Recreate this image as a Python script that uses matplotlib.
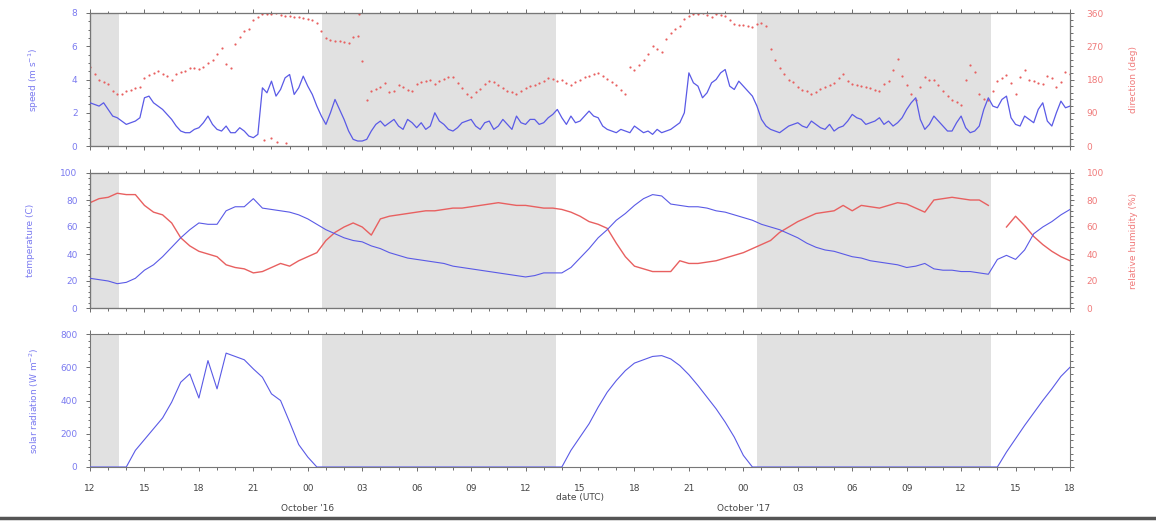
import numpy as np
import matplotlib
matplotlib.use("Agg")
import matplotlib.pyplot as plt
from matplotlib.ticker import MultipleLocator
from matplotlib.lines import Line2D

# hours since 15 Oct 12 UTC, sampled every half hour
STEP = 0.5

speed = [2.6, 2.4, 2.2, 1.7, 1.3, 1.5, 2.9, 2.6, 2.2, 1.6, 0.9, 0.8,
         1.1, 1.8, 1.0, 1.2, 0.8, 0.9, 0.5, 3.5, 3.9, 3.4, 4.3, 3.5,
         3.6, 2.4, 1.3, 2.8, 1.6, 0.4, 0.3, 0.9, 1.5, 1.4, 1.2, 1.6,
         1.1, 1.0, 2.0, 1.3, 0.9, 1.4, 1.6, 1.0, 1.5, 1.2, 1.3, 1.8,
         1.3, 1.6, 1.4, 1.9, 1.7, 1.8, 1.5, 2.1, 1.7, 1.0, 0.8, 0.9,
         1.2, 0.8, 0.7, 0.8, 1.0, 1.4, 4.4, 3.6, 3.2, 4.0, 4.6, 3.4,
         3.6, 3.0, 1.6, 1.0, 0.8, 1.2, 1.4, 1.1, 1.3, 1.0, 0.9, 1.2,
         1.9, 1.6, 1.4, 1.7, 1.5, 1.4, 2.2, 2.9, 1.0, 1.8, 1.2, 0.9,
         1.8, 0.8, 1.2, 2.9, 2.3, 3.0, 1.3, 1.8, 1.4, 2.6, 1.2, 2.7,
         2.4]
# readings a quarter hour after each of the above
speed_mid = [2.5, 2.6, 1.8, 1.5, 1.4, 1.7, 3.0, 2.4, 1.9, 1.2, 0.8, 1.0,
             1.4, 1.3, 0.9, 0.8, 1.1, 0.6, 0.7, 3.2, 3.0, 4.1, 3.1, 4.2,
             3.1, 1.8, 2.0, 2.2, 0.9, 0.3, 0.4, 1.3, 1.2, 1.6, 1.0, 1.4,
             1.4, 1.2, 1.5, 1.0, 1.1, 1.5, 1.2, 1.4, 1.0, 1.6, 1.0, 1.4,
             1.6, 1.3, 1.7, 2.2, 1.3, 1.4, 1.8, 1.8, 1.2, 0.9, 1.0, 0.8,
             1.0, 0.9, 1.0, 0.9, 1.2, 2.0, 3.8, 2.9, 3.8, 4.4, 3.6, 3.9,
             3.3, 2.4, 1.2, 0.9, 1.0, 1.3, 1.2, 1.5, 1.1, 1.3, 1.1, 1.5,
             1.7, 1.3, 1.5, 1.3, 1.2, 1.7, 2.6, 1.6, 1.3, 1.5, 0.9, 1.4,
             1.1, 0.9, 2.2, 2.4, 2.8, 1.7, 1.2, 1.6, 2.2, 1.5, 2.0, 2.3]

direction = [214, 178, 168, 140, 150, 158, 185, 198, 196, 180, 200, 212,
             208, 225, 248, 222, 275, 312, 340, 358, 356, 354, 351, 349,
             344, 332, 292, 285, 282, 295, 230, 150, 160, 145, 165, 152,
             168, 175, 168, 182, 186, 158, 132, 155, 176, 165, 150, 142,
             158, 165, 176, 182, 178, 166, 178, 190, 198, 182, 166, 140,
             205, 232, 270, 255, 305, 325, 352, 357, 354, 358, 352, 330,
             328, 322, 332, 262, 212, 180, 160, 150, 145, 160, 170, 195,
             168, 162, 158, 150, 175, 235, 165, 125, 188, 178, 150, 125,
             110, 218, 140, 125, 175, 192, 140, 205, 176, 168, 185, 172,
             195]
direction_mid = [195, 172, 150, 142, 152, 160, 192, 202, 190, 196, 204, 210,
                 215, 232, 265, 210, 295, 318, 350, 357, 360, 352, 350, 346,
                 340, 310, 288, 283, 280, 298, 125, 155, 170, 150, 160, 148,
                 172, 178, 176, 188, 170, 140, 145, 168, 172, 158, 145, 150,
                 162, 170, 185, 176, 170, 172, 186, 195, 190, 172, 152, 215,
                 220, 250, 262, 290, 318, 345, 356, 360, 350, 355, 340, 328,
                 325, 330, 325, 232, 195, 172, 152, 142, 155, 165, 185, 175,
                 165, 160, 152, 168, 205, 190, 140, 160, 180, 165, 135, 118,
                 180, 200, 128, 150, 185, 170, 188, 180, 170, 190, 160, 200]

# a few readings that wrapped round north
dir_extra_hours = [9.6, 10.0, 10.3, 10.8, 14.8]
dir_extra = [15, 22, 10, 8, 358]

temperature = [22, 21, 20, 18, 19, 22, 28, 32, 38, 45, 52, 58,
               63, 62, 62, 72, 75, 75, 81, 74, 73, 72, 71, 69,
               66, 62, 58, 55, 52, 50, 49, 46, 44, 41, 39, 37,
               36, 35, 34, 33, 31, 30, 29, 28, 27, 26, 25, 24,
               23, 24, 26, 26, 26, 30, 37, 44, 52, 58, 65, 70,
               76, 81, 84, 83, 77, 76, 75, 75, 74, 72, 71, 69,
               67, 65, 62, 60, 58, 55, 52, 48, 45, 43, 42, 40,
               38, 37, 35, 34, 33, 32, 30, 31, 33, 29, 28, 28,
               27, 27, 26, 25, 36, 39, 36, 43, 55, 60, 64, 69,
               73]

humidity = [78, 81, 82, 85, 84, 84, 76, 71, 69, 63, 52, 46,
            42, 40, 38, 32, 30, 29, 26, 27, 30, 33, 31, 35,
            38, 41, 50, 56, 60, 63, 60, 54, 66, 68, 69, 70,
            71, 72, 72, 73, 74, 74, 75, 76, 77, 78, 77, 76,
            76, 75, 74, 74, 73, 71, 68, 64, 62, 59, 48, 38,
            31, 29, 27, 27, 27, 35, 33, 33, 34, 35, 37, 39,
            41, 44, 47, 50, 56, 60, 64, 67, 70, 71, 72, 76,
            72, 76, 75, 74, 76, 78, 77, 74, 71, 80, 81, 82,
            81, 80, 80, 76, np.nan, 60, 68, 61, 53, 47, 42, 38,
            35]

radiation = [0, 0, 0, 0, 0, 100, 165, 230, 295, 390, 510, 560,
             415, 640, 470, 685, 665, 645, 590, 540, 440, 400, 270, 135,
             60, 0, 0, 0, 0, 0, 0, 0, 0, 0, 0, 0,
             0, 0, 0, 0, 0, 0, 0, 0, 0, 0, 0, 0,
             0, 0, 0, 0, 0, 100, 180, 260, 360, 450, 520, 580,
             625, 645, 665, 670, 650, 610, 555, 490, 420, 350, 270, 180,
             70, 0, 0, 0, 0, 0, 0, 0, 0, 0, 0, 0,
             0, 0, 0, 0, 0, 0, 0, 0, 0, 0, 0, 0,
             0, 0, 0, 0, 0, 90, 170, 250, 325, 400, 470, 545,
             600]

# night periods (start, end) in hours
nights = [(0, 1.6), (12.8, 25.7), (36.75, 49.65)]

tick_hours = list(range(0, 55, 3))
tick_labels = ['12', '15', '18', '21', '00', '03', '06', '09', '12', '15',
               '18', '21', '00', '03', '06', '09', '12', '15', '18']
day_labels = [(12, "October '16"), (36, "October '17")]

blue = '#5a5ae6'
red = '#e86060'
blue_txt = '#7a7af0'
red_txt = '#f07a7a'
FS = 6.5

t = np.arange(len(speed)) * STEP
t_mid = np.arange(len(speed_mid)) * STEP + STEP / 2

# interleave half-hour and quarter-hour readings
t_all = np.empty(len(t) + len(t_mid))
t_all[0::2] = t
t_all[1::2] = t_mid
speed_all = np.empty_like(t_all)
speed_all[0::2] = speed
speed_all[1::2] = speed_mid

fig = plt.figure(figsize=(11.56, 5.23), dpi=100)
W, H = 1156, 523


def shade(ax):
    for a, b in nights:
        ax.axvspan(a, b, color='#e1e1e1', lw=0, zorder=0)


def add_panel(top, bottom):
    ax = fig.add_axes([90 / W, 1 - bottom / H, 980 / W, (bottom - top) / H])
    ax.set_xlim(0, 54)
    ax.set_xticks(tick_hours)
    ax.xaxis.set_minor_locator(MultipleLocator(1))
    ax.tick_params(axis='both', which='both', direction='out', top=True,
                   right=True, colors='#555555', labelsize=FS, width=0.6)
    ax.tick_params(which='major', length=3)
    ax.tick_params(which='minor', length=1.8)
    ax.tick_params(axis='x', labelbottom=False)
    ax.tick_params(axis='y', pad=6)
    for s in ax.spines.values():
        s.set_color('#777777')
        s.set_linewidth(0.8)
    return ax


def add_twin(ax, step, minor):
    axb = ax.twinx()
    shade(axb)
    axb.yaxis.set_major_locator(MultipleLocator(step))
    axb.yaxis.set_minor_locator(MultipleLocator(minor))
    axb.tick_params(axis='y', which='both', direction='out', colors='#555555',
                    labelcolor=red_txt, labelsize=FS, width=0.6, pad=9)
    axb.tick_params(which='major', length=3)
    axb.tick_params(which='minor', length=1.8)
    ax.set_zorder(axb.get_zorder() + 1)
    ax.patch.set_visible(False)
    return axb


# speed and direction
ax1 = add_panel(13, 146)
ax1.plot(t_all, speed_all, color=blue, lw=0.9, zorder=3)
ax1.set_ylim(0, 8)
ax1.yaxis.set_major_locator(MultipleLocator(2))
ax1.yaxis.set_minor_locator(MultipleLocator(0.5))
ax1.tick_params(axis='y', labelcolor=blue_txt)
ax1.set_ylabel('speed (m s$^{-1}$)', color=blue_txt, fontsize=FS, labelpad=22)
ax1b = add_twin(ax1, 90, 18)
ax1b.scatter(t, direction, s=2.5, color=red, lw=0, zorder=2)
ax1b.scatter(t_mid, direction_mid, s=2.5, color=red, lw=0, zorder=2)
ax1b.scatter(dir_extra_hours, dir_extra, s=2.5, color=red, lw=0, zorder=2)
ax1b.set_ylim(0, 360)
ax1b.set_ylabel('direction (deg)', color=red_txt, fontsize=FS, labelpad=18)

# temperature and humidity
ax2 = add_panel(173, 308)
ax2.plot(t, temperature, color=blue, lw=0.8, zorder=3)
ax2.set_ylim(0, 100)
ax2.yaxis.set_major_locator(MultipleLocator(20))
ax2.yaxis.set_minor_locator(MultipleLocator(4))
ax2.tick_params(axis='y', labelcolor=blue_txt)
ax2.set_ylabel('temperature (C)', color=blue_txt, fontsize=FS, labelpad=18)
ax2b = add_twin(ax2, 20, 4)
ax2b.plot(t, humidity, color=red, lw=1.0)
ax2b.set_ylim(0, 100)
ax2b.set_ylabel('relative humidity (%)', color=red_txt, fontsize=FS, labelpad=18)

# solar radiation
ax3 = add_panel(334, 467)
shade(ax3)
ax3.plot(t, radiation, color=blue, lw=0.8, zorder=3)
ax3.set_ylim(0, 800)
ax3.yaxis.set_major_locator(MultipleLocator(200))
ax3.yaxis.set_minor_locator(MultipleLocator(40))
ax3.tick_params(axis='y', labelcolor=blue_txt)
ax3.tick_params(axis='x', labelbottom=True, labelcolor='#444444', pad=9)
ax3.set_xticklabels(tick_labels)
ax3.set_ylabel('solar radiation (W m$^{-2}$)', color=blue_txt, fontsize=FS, labelpad=14)
ax3.set_xlabel('date (UTC)', fontsize=FS, color='#444444', labelpad=0)
for h, lab in day_labels:
    ax3.text(h, -0.31, lab, transform=ax3.get_xaxis_transform(), ha='center',
             va='center', fontsize=FS, color='#444444')

fig.add_artist(Line2D([0, 1], [1 - 518 / H, 1 - 518 / H], color='#555555', lw=2.5))

fig.savefig('out.png', dpi=100)
